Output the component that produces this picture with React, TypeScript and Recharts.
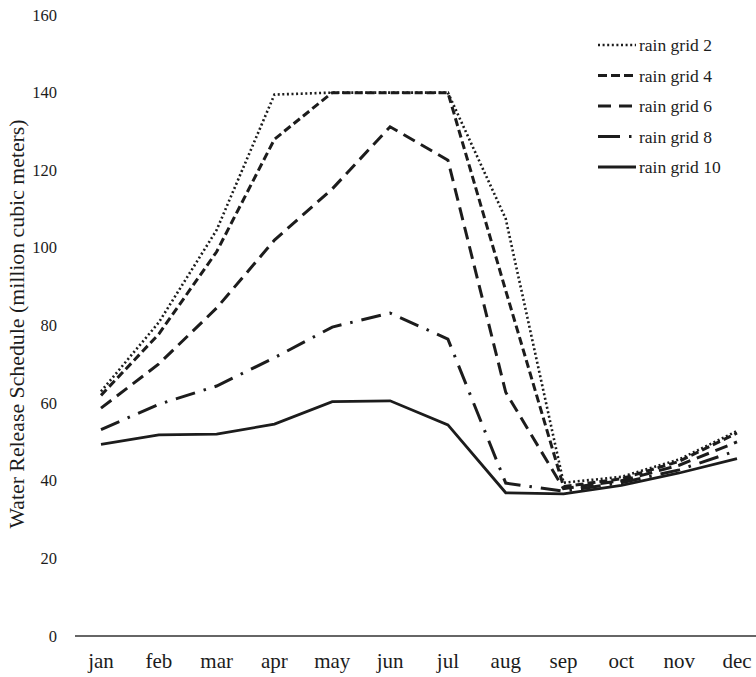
import React from 'react';
import { LineChart, Line, XAxis, YAxis, Legend } from 'recharts';

const months = ['jan', 'feb', 'mar', 'apr', 'may', 'jun', 'jul', 'aug', 'sep', 'oct', 'nov', 'dec'];
const rainGrid2 = [63, 80.8, 104.6, 139.5, 140, 140, 140, 107.5, 39.5, 41, 45.5, 52.8];
const rainGrid4 = [62, 77.8, 99, 128, 140, 140, 140, 89, 38.5, 40.5, 45, 52.3];
const rainGrid6 = [58.7, 70.1, 84.5, 102, 115.2, 131.2, 122.6, 62.8, 38, 40, 44, 50];
const rainGrid8 = [53.2, 59.7, 64.4, 71.7, 79.6, 83.2, 76.5, 39.4, 37.3, 39.5, 42.8, 47.8];
const rainGrid10 = [49.4, 51.8, 52, 54.6, 60.4, 60.6, 54.4, 36.9, 36.6, 38.8, 42, 45.7];
const yTicks = [0, 20, 40, 60, 80, 100, 120, 140, 160];

const series = [
  { key: 'g2', name: 'rain grid 2', values: rainGrid2, dash: '2 2.6', width: 2.6, legendDash: '2 2.6' },
  { key: 'g4', name: 'rain grid 4', values: rainGrid4, dash: '8 4', width: 3, legendDash: '9 4' },
  { key: 'g6', name: 'rain grid 6', values: rainGrid6, dash: '13 7', width: 3, legendDash: '13 8' },
  { key: 'g8', name: 'rain grid 8', values: rainGrid8, dash: '20 9 2.5 9', width: 3, legendDash: '22 9 2.5 9' },
  { key: 'g10', name: 'rain grid 10', values: rainGrid10, dash: undefined, width: 2.8, legendDash: undefined },
];

const data = months.map((m, i) => {
  const row: Record<string, string | number> = { month: m };
  series.forEach((s) => {
    row[s.key] = s.values[i];
  });
  return row;
});

const FONT = 'Liberation Serif';
const INK = '#1c1c1c';

const renderLegend = () => (
  <svg width={159} height={155} style={{ display: 'block' }}>
    {series.map((s, i) => {
      const cy = 15 + i * 30.5;
      return (
        <g key={s.key}>
          <line x1={1} y1={cy} x2={39} y2={cy} stroke={INK} strokeWidth={s.width} strokeDasharray={s.legendDash} />
          <text x={42} y={cy} dominantBaseline="central" fontFamily={FONT} fontSize={17.5} fill={INK}>
            {s.name}
          </text>
        </g>
      );
    })}
  </svg>
);

const XTick = (props: any) => {
  const { x, y, payload } = props;
  return (
    <text x={x} y={y + 15} textAnchor="middle" fontFamily={FONT} fontSize={21} fill={INK}>
      {payload.value}
    </text>
  );
};

const YTick = (props: any) => {
  const { x, y, payload } = props;
  return (
    <text x={x} y={y} textAnchor="end" dominantBaseline="central" fontFamily={FONT} fontSize={16.5} fill={INK}>
      {payload.value}
    </text>
  );
};

const YLabel = () => {
  const cx = 17;
  const cy = 324;
  return (
    <text
      x={cx}
      y={cy}
      transform={`rotate(-90, ${cx}, ${cy})`}
      textAnchor="middle"
      dominantBaseline="central"
      fontFamily={FONT}
      fontSize={21.8}
      fill={INK}
    >
      Water Release Schedule (million cubic meters)
    </text>
  );
};

export default function App() {
  return (
    <div style={{ position: 'absolute', left: 0, top: 0, width: 756, height: 677, background: '#fff', fontFamily: FONT }}>
      <LineChart width={756} height={677} data={data} margin={{ top: 15, right: 0, bottom: 0, left: 0 }}>
        <XAxis
          dataKey="month"
          scale="point"
          padding={{ left: 26, right: 19 }}
          height={41}
          tickLine={false}
          tickSize={0}
          tickMargin={17}
          axisLine={{ stroke: '#333', strokeWidth: 1.5 }}
          tick={<XTick />}
          interval={0}
        />
        <YAxis
          domain={[0, 160]}
          ticks={yTicks}
          width={75}
          axisLine={false}
          tickLine={false}
          tickSize={0}
          tickMargin={18}
          tick={<YTick />}
          label={{ content: YLabel }}
        />
        <Legend
          content={renderLegend}
          layout="horizontal"
          verticalAlign="middle"
          align="center"
          wrapperStyle={{ position: 'absolute', left: 597, top: 30, width: 159, height: 155 }}
        />
        {series.map((s) => (
          <Line
            key={s.key}
            dataKey={s.key}
            name={s.name}
            type="linear"
            stroke={INK}
            strokeWidth={s.width}
            strokeDasharray={s.dash}
            dot={false}
            activeDot={false}
            isAnimationActive={false}
          />
        ))}
      </LineChart>
    </div>
  );
}
